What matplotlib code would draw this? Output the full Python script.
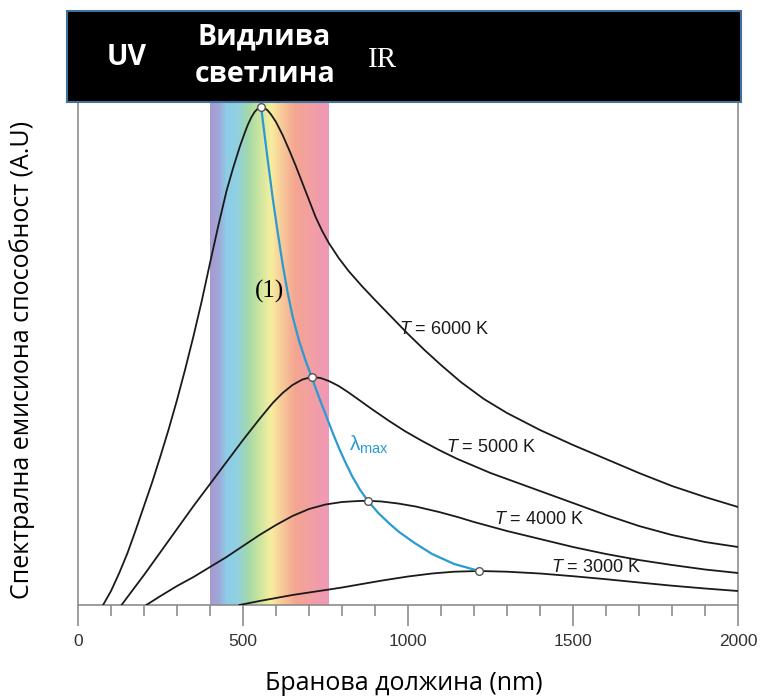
import numpy as np
import matplotlib.pyplot as plt
from matplotlib.colors import LinearSegmentedColormap
from matplotlib.patches import Rectangle

plt.rcParams['mathtext.fontset'] = 'custom'
plt.rcParams['mathtext.rm'] = 'Liberation Sans'
plt.rcParams['mathtext.it'] = 'Liberation Sans:italic'

# vrednosti procitani od slikata (nm, A.U.)
lam_6000 = [76, 100, 125, 150, 175, 200, 225, 250, 275, 300, 325, 350, 375, 400, 425, 450, 470,
            490, 505, 515, 525, 535, 545, 555, 565, 575, 585, 600, 620, 640, 660, 680, 700, 720,
            740, 760, 790, 820, 860, 900, 950, 1000, 1050, 1100, 1160, 1230, 1300, 1400, 1500,
            1600, 1700, 1800, 1900, 2000]
int_6000 = [0, 14, 32, 52, 75, 99, 123, 149, 176, 205, 236, 269, 304, 342, 379, 414, 437,
            458, 472, 480.5, 487.5, 493, 496.5, 498, 497, 494.5, 490.5, 483, 470, 455, 439, 422, 405, 388,
            374, 362, 347, 334, 319, 305, 288, 271, 255, 240, 223, 206, 192, 175, 160,
            146, 132, 119, 108, 98]

lam_5000 = [132, 150, 175, 200, 250, 300, 350, 400, 450, 500, 550, 590, 620, 650, 680, 708, 735,
            760, 790, 820, 852, 890, 943, 990, 1043, 1094, 1150, 1200, 1250, 1300, 1400, 1500,
            1600, 1700, 1800, 1900, 2000]
int_5000 = [0, 8, 19, 30, 53, 76, 99, 121, 143, 165, 186, 202, 212, 220, 225.5, 228, 227,
            224, 219, 212.5, 205, 196, 184, 174, 164, 155, 146, 139, 132, 126, 114, 102,
            90, 79, 70, 63, 58]

lam_4000 = [207, 250, 300, 350, 400, 450, 500, 550, 600, 650, 700, 750, 800, 850, 879, 920, 970,
            1023, 1094, 1150, 1200, 1250, 1300, 1400, 1500, 1600, 1700, 1800, 1900, 2000]
int_4000 = [0, 9, 19, 28, 38, 48, 59, 70, 80, 89, 96, 100.5, 103, 104, 104.2, 103.5, 101.5,
            98.5, 93, 88, 83, 78.5, 74, 66, 58, 51, 45, 40, 35.5, 32]

lam_3000 = [489, 550, 600, 650, 700, 761, 800, 852, 922, 1000, 1073, 1140, 1216, 1300, 1400, 1500,
            1600, 1700, 1800, 1900, 2000]
int_3000 = [0, 4, 7, 10, 12.5, 15.5, 17.5, 20.5, 24.5, 28.5, 31.5, 33.3, 34, 33.3, 31.5, 28.8,
            25.8, 22.5, 19.3, 16.5, 14]

lam_wien = [555, 565, 575, 590, 605, 620, 635, 650, 670, 690, 708, 730, 751, 772, 792, 812, 832,
            855, 879, 910, 945, 973, 1020, 1073, 1140, 1216]
int_wien = [498, 471, 445, 407, 373, 341, 313, 289, 264, 244, 228, 208, 190, 172, 156, 141.5, 128,
            115, 104, 92, 81, 73, 62, 51, 41, 34]

lam_peak = [555, 708, 879, 1216]
int_peak = [498, 228, 104, 34]

vid_od, vid_do = 400, 760
boi_nm = [400, 425, 450, 480, 515, 545, 585, 620, 660, 710, 760]
boi = ['#a79bd0', '#a0a6d8', '#8ecde8', '#90d0e2', '#a2d8aa', '#c6e4a0', '#f7ee9e',
       '#f8c898', '#f4a592', '#f29fa4', '#ef99b6']

fig = plt.figure(figsize=(7.62, 6.98), dpi=100)
ax = fig.add_axes([78/762, 93/698, 660/762, 502/698])
ax.set_xlim(0, 2000)
ax.set_ylim(0, 502)

# vidliv spektar
poz = [(n - vid_od) / (vid_do - vid_od) for n in boi_nm]
cmap = LinearSegmentedColormap.from_list('vid', list(zip(poz, boi)))
grad = np.linspace(0, 1, 400).reshape(1, -1)
ax.imshow(grad, cmap=cmap, extent=(vid_od, vid_do, 0, 502), aspect='auto', zorder=0)

for lam, inten in [(lam_6000, int_6000), (lam_5000, int_5000), (lam_4000, int_4000), (lam_3000, int_3000)]:
    ax.plot(lam, inten, color='#1a1a1a', lw=1.3, zorder=3)
ax.plot(lam_wien, int_wien, color='#2a9ad4', lw=1.6, zorder=4)
ax.plot(lam_peak, int_peak, 'o', mfc='white', mec='#555555', ms=5.5, mew=1, zorder=5)

tf = dict(fontsize=13, family='Liberation Sans', color='#1a1a1a', ha='center', va='center')
ax.text(1109, 276, r'$T$ = 6000 K', **tf)
ax.text(1251, 158, r'$T$ = 5000 K', **tf)
ax.text(1399, 85, r'$T$ = 4000 K', **tf)
ax.text(1571, 38, r'$T$ = 3000 K', **tf)
ax.text(822, 160, r'$\mathrm{\lambda}_{\mathrm{max}}$', fontsize=15, color='#2a9ad4', ha='left', va='center')
ax.text(580, 314, '(1)', fontsize=18, family='Liberation Serif', ha='center', va='center')

# oski
for s in ['left', 'right', 'bottom']:
    ax.spines[s].set_color('#8c8c8c')
    ax.spines[s].set_linewidth(1.2)
ax.spines['top'].set_visible(False)
ax.set_yticks([])
ax.set_xticks([0, 500, 1000, 1500, 2000])
ax.set_xticks(range(0, 2001, 100), minor=True)
ax.tick_params(axis='x', which='major', length=15, width=1.2, color='#8c8c8c', pad=6,
               labelsize=12.5, labelcolor='#333333')
ax.tick_params(axis='x', which='minor', length=8, width=1.2, color='#8c8c8c')
for t in ax.get_xticklabels():
    t.set_family('Liberation Sans')

fig.text(404/762, 1 - 683/698, 'Бранова должина (nm)', fontsize=18, family='Open Sans',
         ha='center', va='center')
fig.text(22/762, 1 - 360/698, 'Спектрална емисиона способност (A.U)', fontsize=18,
         family='Open Sans', rotation=90, ha='center', va='center')

# crna lenta gore
fig.add_artist(Rectangle((67/762, 1 - 102/698), 674/762, 91/698, transform=fig.transFigure,
                         fc='black', ec='#41719c', lw=1.5, zorder=10))
bt = dict(color='white', fontsize=20.5, family='Open Sans', weight='bold', ha='center',
          va='baseline', zorder=11)
fig.text(127/762, 1 - 65/698, 'UV', **bt)
fig.text(264/762, 1 - 44/698, 'Видлива', **bt)
fig.text(265/762, 1 - 82/698, 'светлина', **bt)
fig.text(383/762, 1 - 67/698, 'IR', color='white', fontsize=21, family='Liberation Serif',
         ha='center', va='baseline', zorder=11)

fig.savefig('out.png', dpi=100)
